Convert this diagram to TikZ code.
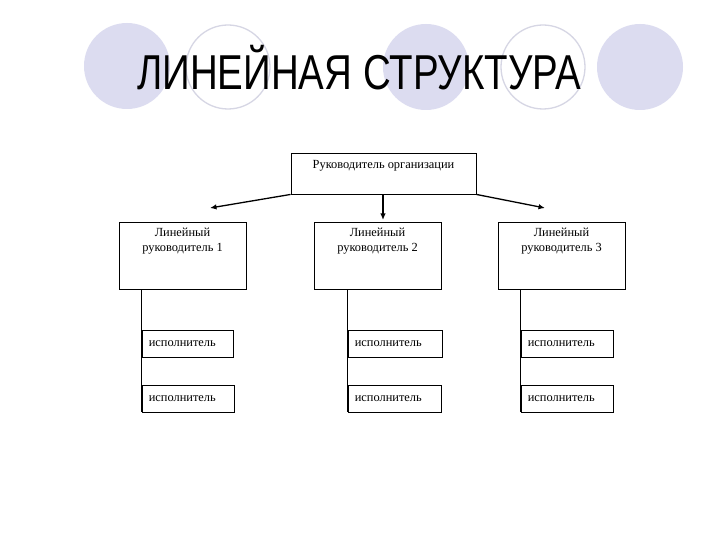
\documentclass[tikz,border=0pt]{standalone}
\usepackage{fontspec}
\setmainfont{Liberation Serif}
\newfontfamily\titlefont{Liberation Sans}
\usetikzlibrary{arrows.meta}
\definecolor{discfill}{RGB}{220,220,240}
\definecolor{ringline}{RGB}{214,214,228}
\tikzset{
  disc/.style={fill=discfill, draw=none},
  ring/.style={fill=white, draw=ringline, line width=1.3pt},
  box/.style={draw=black, line width=0.9pt, fill=white, inner sep=0pt},
  txt/.style={font=\fontsize{12.4}{15}\selectfont, inner sep=0pt, text=black},
  conn/.style={draw=black, line width=0.9pt},
  arr/.style={draw=black, line width=1.3pt, -{Latex[length=6.5pt,width=5.5pt]}}
}
\begin{document}
\begin{tikzpicture}[x=1pt,y=-1pt]
\useasboundingbox (0,0) rectangle (720,540);
\fill[white] (0,0) rectangle (720,540);
% decorative circles
\fill[disc] (127,66) circle (43);
\draw[ring] (228,67) circle (42);
\fill[disc] (426,67) circle (43);
\draw[ring] (543,67) circle (42);
\fill[disc] (640,67) circle (43);
% title
\node[anchor=base west, inner sep=0pt] (title) at (137,90)
  {\scalebox{0.785}[1]{\titlefont\fontsize{49}{49}\selectfont ЛИНЕЙНАЯ СТРУКТУРА}};
% top box
\node[box, minimum width=185pt, minimum height=41pt] (top) at (383.5,173.5) {};
\node[txt] (toptxt) at ([yshift=-13.5pt]top.north) {Руководитель организации};
% level-2 boxes
\node[box, minimum width=127pt, minimum height=67pt] (l1) at (182.5,255.5) {};
\node[box, minimum width=127pt, minimum height=67pt] (l2) at (377.5,255.5) {};
\node[box, minimum width=127pt, minimum height=67pt] (l3) at (561.5,255.5) {};
\node[txt, align=center] (l1t) at ([yshift=-20pt]l1.north) {Линейный\\руководитель 1};
\node[txt, align=center] (l2t) at ([yshift=-20pt]l2.north) {Линейный\\руководитель 2};
\node[txt, align=center] (l3t) at ([yshift=-20pt]l3.north) {Линейный\\руководитель 3};
% arrows
\coordinate (a1) at (210,208);
\coordinate (a2) at (383,220);
\coordinate (a3) at (545,208);
\draw[arr] (top.south west) -- (a1);
\draw[arr] (top.south -| a2) -- (a2);
\draw[arr] (top.south east) -- (a3);
% executor boxes
\node[box, minimum width=91pt, minimum height=27pt] (e11) at (187.5,343.5) {};
\node[box, minimum width=92pt, minimum height=27pt] (e12) at (188,398.5) {};
\node[box, minimum width=94pt, minimum height=27pt] (e21) at (395,343.5) {};
\node[box, minimum width=93pt, minimum height=27pt] (e22) at (394.5,398.5) {};
\node[box, minimum width=92pt, minimum height=27pt] (e31) at (567,343.5) {};
\node[box, minimum width=92pt, minimum height=27pt] (e32) at (567,398.5) {};
\foreach \e in {e11,e12,e21,e22,e31,e32}{
  \node[txt, anchor=west] (\e t) at ([xshift=7pt]\e.west) {исполнитель};
}
% vertical connectors
\draw[conn] (l1.south -| e11.west) -- (e12.south west);
\draw[conn] (l2.south -| e21.west) -- (e22.south west);
\draw[conn] (l3.south -| e31.west) -- (e32.south west);
\end{tikzpicture}
\end{document}
